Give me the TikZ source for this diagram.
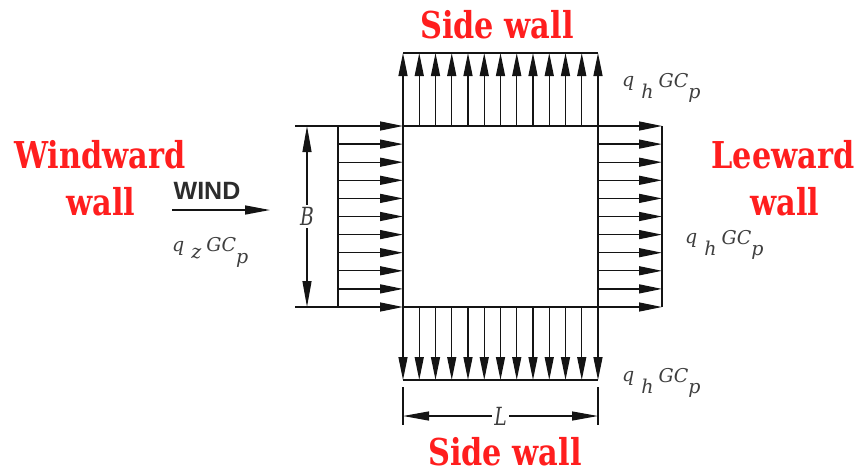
\documentclass[tikz,border=0pt]{standalone}
\usepackage{graphicx}
\usepackage{fontspec}
\setmainfont{DejaVu Serif}
\newfontfamily\arialfont{Liberation Sans}
\usetikzlibrary{arrows.meta}
\definecolor{wallred}{RGB}{255,30,30}
\definecolor{ink}{RGB}{20,20,20}
\definecolor{labgray}{RGB}{62,62,62}
\newcommand{\rl}[1]{\scalebox{0.82}[1]{#1}}
\newcommand{\nl}[1]{\scalebox{0.75}[1]{#1}}
\newcommand{\qlab}[1]{{\itshape q\hspace{7pt}\raisebox{-12pt}{#1}\hspace{5pt}\raisebox{-1pt}{GC}\raisebox{-12pt}{p}}}
\tikzset{
  walllabel/.style={text=wallred,font=\fontsize{37}{40}\selectfont\bfseries,inner sep=0pt,anchor=base},
  qlabel/.style={text=labgray,font=\fontsize{19}{21}\selectfont,inner sep=0pt,anchor=base west},
  load/.style={draw=ink,line width=1.3pt,-{Triangle[length=23pt,width=9pt]}},
  base/.style={draw=ink,line width=1.5pt},
  dim/.style={draw=ink,line width=1.2pt,{Triangle[length=26pt,width=9pt]}-{Triangle[length=26pt,width=9pt]}},
  dimlab/.style={fill=white,text=labgray,font=\fontsize{25}{27}\selectfont\itshape,inner sep=2pt}
}
\begin{document}
\begin{tikzpicture}[x=1pt,y=-1pt]
\useasboundingbox (0,0) rectangle (861,475);
\coordinate (tl) at (403,126);
\coordinate (br) at (598,307);
% windward and leeward loads
\foreach \i in {0,...,10}{
  \pgfmathsetmacro{\yy}{126+\i*18.1}
  \draw[load] (338,\yy) -- (403,\yy);
  \draw[load] (598,\yy) -- (662,\yy);
}
\draw[base] (338,126) -- (338,307);
\draw[base] (662,126) -- (662,307);
% side wall loads
\foreach \i in {0,...,12}{
  \pgfmathsetmacro{\xx}{403+\i*16.25}
  \draw[load] (\xx,126) -- (\xx,53);
  \draw[load] (\xx,307) -- (\xx,380);
}
\draw[base] (403,53) -- (598,53);
\draw[base] (403,380) -- (598,380);
% building
\draw[draw=ink,line width=2.8pt] (tl) rectangle (br);
% B dimension
\draw[base,line width=1.2pt] (295,126) -- (338,126);
\draw[base,line width=1.2pt] (295,307) -- (338,307);
\coordinate (bt) at (307,126);
\coordinate (bb) at (307,307);
\draw[dim] (bt) -- (bb) node[dimlab,midway] (B) {\nl{B}};
% L dimension
\draw[base,line width=1.2pt] (403,387) -- (403,425);
\draw[base,line width=1.2pt] (598,387) -- (598,425);
\coordinate (ll) at (403,416);
\coordinate (lr) at (598,416);
\draw[dim] (ll) -- (lr) node[dimlab,midway] (L) {\nl{L}};
% wind
\node[text=ink!90,font=\arialfont\bfseries\fontsize{25}{27}\selectfont,inner sep=0pt,anchor=base] (wind) at (207,199) {WIND};
\coordinate (w1) at (172,210);
\coordinate (w2) at (270,210);
\draw[draw=ink,line width=1.5pt,-{Triangle[length=25pt,width=9pt]}] (w1) -- (w2);
% labels
\node[walllabel] (sw1) at (497,38) {\rl{Side wall}};
\node[walllabel] (sw2) at (505,465) {\rl{Side wall}};
\node[walllabel] (ww1) at (100,168) {\rl{Windward}};
\node[walllabel] (ww2) at (101,215) {\rl{wall}};
\node[walllabel] (lw1) at (783,168) {\rl{Leeward}};
\node[walllabel] (lw2) at (785,215) {\rl{wall}};
\node[qlabel] (q1) at (622,86) {\qlab{h}};
\node[qlabel] (q2) at (685,243) {\qlab{h}};
\node[qlabel] (q3) at (622,381) {\qlab{h}};
\node[qlabel] (q4) at (172,251) {\itshape q\hspace{7pt}\raisebox{-7pt}{z}\hspace{5pt}GC\raisebox{-12pt}{p}};
\end{tikzpicture}
\end{document}
